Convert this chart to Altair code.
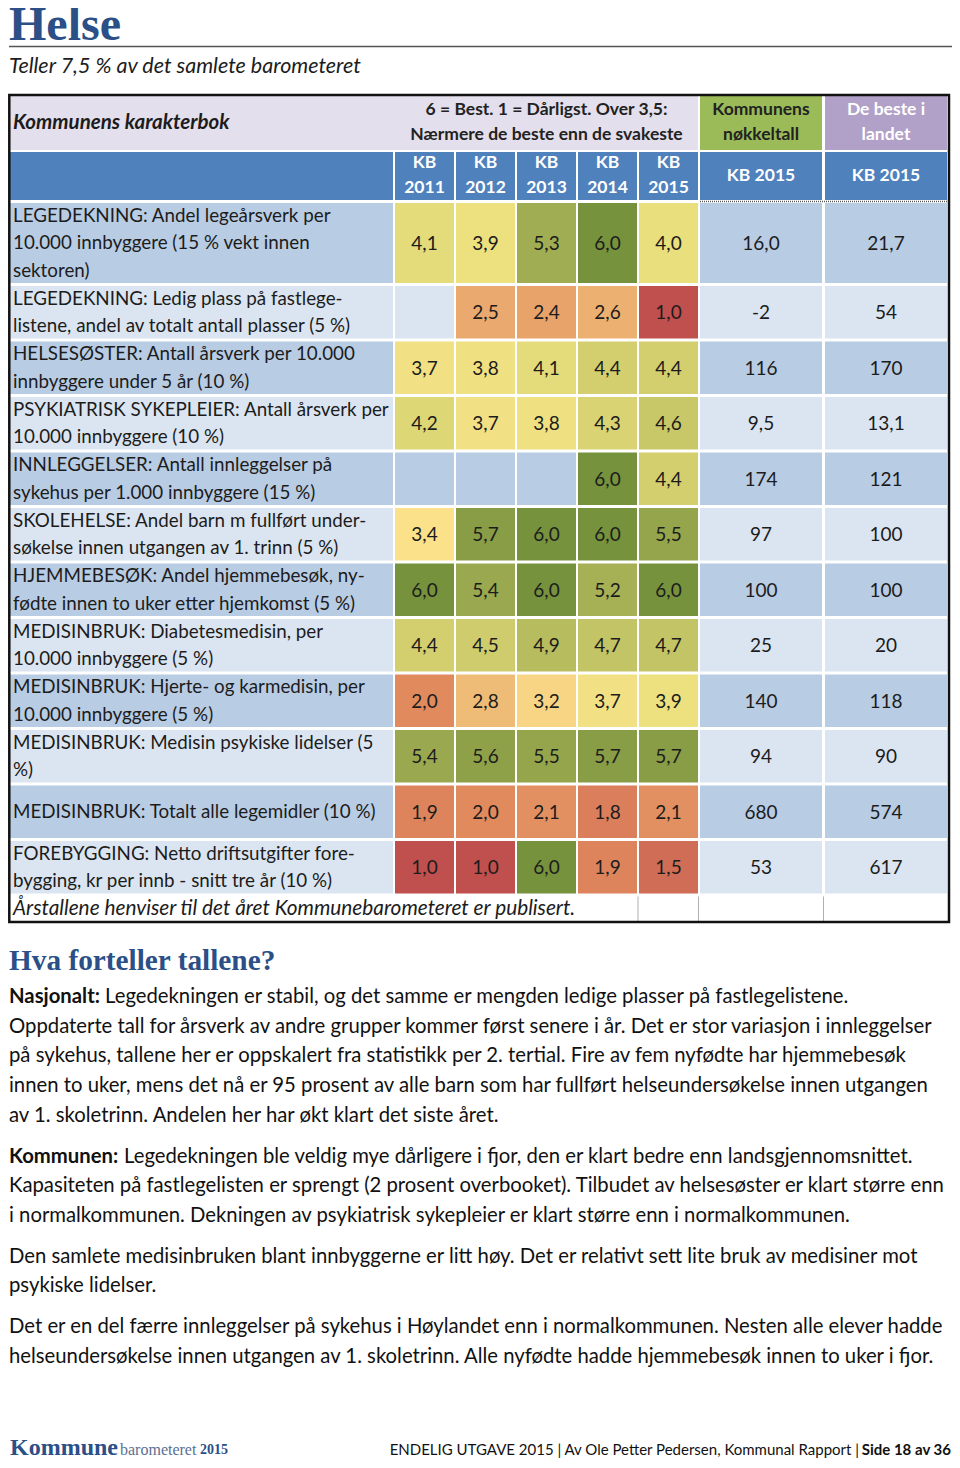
import altair as alt
import pandas as pd

# ---------------- data ----------------
labels = [
    ["LEGEDEKNING: Andel legeårsverk per", "10.000 innbyggere (15 % vekt innen", "sektoren)"],
    ["LEGEDEKNING: Ledig plass på fastlege-", "listene, andel av totalt antall plasser (5 %)"],
    ["HELSESØSTER: Antall årsverk per 10.000", "innbyggere under 5 år (10 %)"],
    ["PSYKIATRISK SYKEPLEIER: Antall årsverk per", "10.000 innbyggere (10 %)"],
    ["INNLEGGELSER: Antall innleggelser på", "sykehus per 1.000 innbyggere (15 %)"],
    ["SKOLEHELSE: Andel barn m fullført under-", "søkelse innen utgangen av 1. trinn (5 %)"],
    ["HJEMMEBESØK: Andel hjemmebesøk, ny-", "fødte innen to uker etter hjemkomst (5 %)"],
    ["MEDISINBRUK: Diabetesmedisin, per", "10.000 innbyggere (5 %)"],
    ["MEDISINBRUK: Hjerte- og karmedisin, per", "10.000 innbyggere (5 %)"],
    ["MEDISINBRUK: Medisin psykiske lidelser (5", "%)"],
    ["MEDISINBRUK: Totalt alle legemidler (10 %)"],
    ["FOREBYGGING: Netto driftsutgifter fore-", "bygging, kr per innb - snitt tre år (10 %)"],
]
years = ["2011", "2012", "2013", "2014", "2015"]
scores = [
    [4.1, 3.9, 5.3, 6.0, 4.0],
    [None, 2.5, 2.4, 2.6, 1.0],
    [3.7, 3.8, 4.1, 4.4, 4.4],
    [4.2, 3.7, 3.8, 4.3, 4.6],
    [None, None, None, 6.0, 4.4],
    [3.4, 5.7, 6.0, 6.0, 5.5],
    [6.0, 5.4, 6.0, 5.2, 6.0],
    [4.4, 4.5, 4.9, 4.7, 4.7],
    [2.0, 2.8, 3.2, 3.7, 3.9],
    [5.4, 5.6, 5.5, 5.7, 5.7],
    [1.9, 2.0, 2.1, 1.8, 2.1],
    [1.0, 1.0, 6.0, 1.9, 1.5],
]
kommune_vals = ["16,0", "-2", "116", "9,5", "174", "97", "100", "25", "140", "94", "680", "53"]
best_vals = ["21,7", "54", "170", "13,1", "121", "100", "100", "20", "118", "90", "574", "617"]

title = "Helse"
subtitle = "Teller 7,5 % av det samlete barometeret"
head_left = "Kommunens karakterbok"
head_scale = ["6 = Best. 1 = Dårligst. Over 3,5:", "Nærmere de beste enn de svakeste"]
head_komm = ["Kommunens", "nøkkeltall"]
head_best = ["De beste i", "landet"]
footnote = "Årstallene henviser til det året Kommunebarometeret er publisert."
section = "Hva forteller tallene?"
paragraphs = [
    [("Nasjonalt:", "Legedekningen er stabil, og det samme er mengden ledige plasser på fastlegelistene."),
     ("", "Oppdaterte tall for årsverk av andre grupper kommer først senere i år. Det er stor variasjon i innleggelser"),
     ("", "på sykehus, tallene her er oppskalert fra statistikk per 2. tertial. Fire av fem nyfødte har hjemmebesøk"),
     ("", "innen to uker, mens det nå er 95 prosent av alle barn som har fullført helseundersøkelse innen utgangen"),
     ("", "av 1. skoletrinn. Andelen her har økt klart det siste året.")],
    [("Kommunen:", "Legedekningen ble veldig mye dårligere i fjor, den er klart bedre enn landsgjennomsnittet."),
     ("", "Kapasiteten på fastlegelisten er sprengt (2 prosent overbooket). Tilbudet av helsesøster er klart større enn"),
     ("", "i normalkommunen. Dekningen av psykiatrisk sykepleier er klart større enn i normalkommunen.")],
    [("", "Den samlete medisinbruken blant innbyggerne er litt høy. Det er relativt sett lite bruk av medisiner mot"),
     ("", "psykiske lidelser.")],
    [("", "Det er en del færre innleggelser på sykehus i Høylandet enn i normalkommunen. Nesten alle elever hadde"),
     ("", "helseundersøkelse innen utgangen av 1. skoletrinn. Alle nyfødte hadde hjemmebesøk innen to uker i fjor.")],
]
footer_logo = ["Kommune", "barometeret", "2015"]
footer_text = "ENDELIG UTGAVE 2015 | Av Ole Petter Pedersen, Kommunal Rapport |"
footer_bold = "Side 18 av 36"

# ---------------- layout (reference page pixels) ----------------
FONT = "Lato"
SERIF = "Liberation Serif"
BLUE_HEAD = "#2b4f87"
TXT = "#1c1c1c"
LAV, GREEN, PURPLE, BLUE = "#e4dfec", "#9bbb59", "#b1a0c7", "#4f81bd"
ROW_BG = ["#b8cce4", "#dbe5f1"]

lab_x0, lab_w = 6, 383
sc_x0, sc_step, sc_w = 391, 61, 59
ext_cols = [(696, 122), (821, 122)]
hdr1 = (96, 150)
hdr2 = (152, 200)
row_top0 = 203
row_h = [83 if len(l) == 3 else 55.5 for l in labels]
gap = 3
line_h = 27.5

row_tops = []
t = row_top0
for h in row_h:
    row_tops.append(t)
    t += h
foot_top, foot_bot = t, 921

rects = []   # layout rectangles with literal fills
def R(x, x2, y, y2, fill):
    rects.append(dict(x=x, x2=x2, y=y, y2=y2, fill=fill))

R(lab_x0, sc_x0 + 4 * sc_step + sc_w, hdr1[0], hdr1[1], LAV)
R(ext_cols[0][0], ext_cols[0][0] + ext_cols[0][1], hdr1[0], hdr1[1], GREEN)
R(ext_cols[1][0], ext_cols[1][0] + ext_cols[1][1], hdr1[0], hdr1[1], PURPLE)
R(lab_x0, lab_x0 + lab_w, hdr2[0], hdr2[1], BLUE)
for i in range(5):
    R(sc_x0 + i * sc_step, sc_x0 + i * sc_step + sc_w, hdr2[0], hdr2[1], BLUE)
for cx, cw in ext_cols:
    R(cx, cx + cw, hdr2[0], hdr2[1], BLUE)

score_cells = []
texts_left, texts_center = [], []
for r, (top, h) in enumerate(zip(row_tops, row_h)):
    bg = ROW_BG[r % 2]
    y0, y1 = top, top + h - gap
    yc = (y0 + y1) / 2
    R(lab_x0, lab_x0 + lab_w, y0, y1, bg)
    n = len(labels[r])
    for k, line in enumerate(labels[r]):
        texts_left.append(dict(x=9, y=yc + (k - (n - 1) / 2) * line_h, text=line))
    for i in range(5):
        xa = sc_x0 + i * sc_step
        v = scores[r][i]
        if v is None:
            R(xa, xa + sc_w, y0, y1, bg)
        else:
            score_cells.append(dict(x=xa, x2=xa + sc_w, y=y0, y2=y1, score=v))
            texts_center.append(dict(x=xa + sc_w / 2, y=yc + 1, text=f"{v:.1f}".replace(".", ",")))
    for (cx, cw), val in zip(ext_cols, [kommune_vals[r], best_vals[r]]):
        R(cx, cx + cw, y0, y1, bg)
        texts_center.append(dict(x=cx + cw / 2, y=yc + 1, text=val))

rect_df = pd.DataFrame(rects)
score_df = pd.DataFrame(score_cells)

W, H = 944, 1452
xs = alt.Scale(domain=[4, 948], nice=False, zero=False)
ys = alt.Scale(domain=[8, 1460], nice=False, zero=False, reverse=True)

def XY(extra2=False):
    enc = dict(x=alt.X("x:Q", scale=xs, axis=None), y=alt.Y("y:Q", scale=ys, axis=None))
    if extra2:
        enc["x2"] = alt.X2("x2:Q")
        enc["y2"] = alt.Y2("y2:Q")
    return enc

layers = []
layers.append(alt.Chart(rect_df).mark_rect().encode(
    color=alt.Color("fill:N", scale=None), **XY(True)))
layers.append(alt.Chart(score_df).mark_rect().encode(
    color=alt.Color("score:Q", legend=None, scale=alt.Scale(
        domain=[1, 2, 3.4, 4.0, 5.0, 6],
        range=["#c0504d", "#e08a5e", "#fbe28a", "#e9df7d", "#b2b85b", "#76923c"],
        interpolate="rgb")), **XY(True)))

def text_layer(rows, **kw):
    df = pd.DataFrame(rows)
    params = dict(font=FONT, fontSize=18.8, color=TXT, baseline="middle")
    params.update(kw)
    return alt.Chart(df).mark_text(**params).encode(text="text:N", **XY())

# table body texts
layers.append(text_layer(texts_left, align="left"))
layers.append(text_layer(texts_center, align="center", fontSize=19))

# header texts
layers.append(text_layer([dict(x=9, y=123, text=head_left)], align="left", fontWeight="bold",
                         fontStyle="italic", fontSize=20.5))
scale_cx = (sc_x0 + sc_x0 + 4 * sc_step + sc_w) / 2
layers.append(text_layer(
    [dict(x=scale_cx, y=110 + 25 * k, text=s) for k, s in enumerate(head_scale)] +
    [dict(x=ext_cols[0][0] + ext_cols[0][1] / 2, y=110 + 25 * k, text=s) for k, s in enumerate(head_komm)],
    align="center", fontWeight="bold", fontSize=17.5, color="#222222"))
layers.append(text_layer(
    [dict(x=ext_cols[1][0] + ext_cols[1][1] / 2, y=110 + 25 * k, text=s) for k, s in enumerate(head_best)] +
    [dict(x=sc_x0 + i * sc_step + sc_w / 2, y=163 + 25 * k, text=s)
     for i, yr in enumerate(years) for k, s in enumerate(["KB", yr])] +
    [dict(x=cx + cw / 2, y=176, text="KB 2015") for cx, cw in ext_cols],
    align="center", fontWeight="bold", fontSize=17.5, color="white"))

# footnote row
layers.append(text_layer([dict(x=9, y=909, text=footnote)], align="left", fontStyle="italic", fontSize=20.8))
sep_df = pd.DataFrame([dict(x=v, y=foot_top, y2=foot_bot) for v in [634, 694.5, 819.5]])
layers.append(alt.Chart(sep_df).mark_rule(color="#b0b0b0", strokeWidth=1).encode(
    x=alt.X("x:Q", scale=xs, axis=None), y=alt.Y("y:Q", scale=ys, axis=None), y2="y2:Q"))
dot_df = pd.DataFrame([dict(x=696, x2=943, y=201.5)])
layers.append(alt.Chart(dot_df).mark_rule(color="#555555", strokeWidth=1.5, strokeDash=[1, 1]).encode(
    x=alt.X("x:Q", scale=xs, axis=None), x2="x2:Q", y=alt.Y("y:Q", scale=ys, axis=None)))

# table border
border_df = pd.DataFrame([dict(x=5.3, x2=945, y=95, y2=922)])
layers.append(alt.Chart(border_df).mark_rect(fillOpacity=0, stroke="#111111", strokeWidth=2.5).encode(**XY(True)))

# title, rule, subtitle
layers.append(text_layer([dict(x=5, y=40, text=title)], align="left", baseline="alphabetic",
                         font=SERIF, fontWeight="bold", fontSize=48, color=BLUE_HEAD))
hr_df = pd.DataFrame([dict(x=5, x2=948, y=46.5)])
layers.append(alt.Chart(hr_df).mark_rule(color="#555555", strokeWidth=1.5).encode(
    x=alt.X("x:Q", scale=xs, axis=None), x2="x2:Q", y=alt.Y("y:Q", scale=ys, axis=None)))
layers.append(text_layer([dict(x=5, y=67, text=subtitle)], align="left", fontStyle="italic", fontSize=21.5))

# section heading and paragraphs
layers.append(text_layer([dict(x=5, y=961, text=section)], align="left",
                         font=SERIF, fontWeight="bold", fontSize=29.3, color=BLUE_HEAD))
p_line_h = 29.7
para_gap = 11
y = 997
bold_rows, norm_rows = [], []
bold_offsets = {"Nasjonalt:": 101, "Kommunen:": 120}
for para in paragraphs:
    for b, rest in para:
        if b:
            bold_rows.append(dict(x=5, y=y, text=b))
            norm_rows.append(dict(x=bold_offsets[b], y=y, text=rest))
        else:
            norm_rows.append(dict(x=5, y=y, text=rest))
        y += p_line_h
    y += para_gap
layers.append(text_layer(bold_rows, align="left", fontWeight="bold", fontSize=20.3, color="#111111"))
layers.append(text_layer(norm_rows, align="left", fontSize=20.3, color="#111111"))

# footer
layers.append(text_layer([dict(x=6, y=1448, text=footer_logo[0])], align="left",
                         font=SERIF, fontWeight="bold", fontSize=24, color=BLUE_HEAD))
layers.append(text_layer([dict(x=116, y=1450, text=footer_logo[1])], align="left",
                         font=SERIF, fontSize=16, color="#5a6f92"))
layers.append(text_layer([dict(x=196, y=1450, text=footer_logo[2])], align="left",
                         font=SERIF, fontWeight="bold", fontSize=14, color=BLUE_HEAD))
layers.append(text_layer([dict(x=947, y=1450, text=footer_bold)], align="right",
                         fontWeight="bold", fontSize=15, color="#111111"))
layers.append(text_layer([dict(x=855, y=1450, text=footer_text)], align="right",
                         fontSize=15, color="#111111"))

chart = alt.layer(*layers).resolve_scale(color="independent").properties(
    width=W, height=H, padding=0, autosize="none", background="white"
).configure_view(stroke=None)

chart.save("out.html", embed_options={"renderer": "svg", "actions": False})
